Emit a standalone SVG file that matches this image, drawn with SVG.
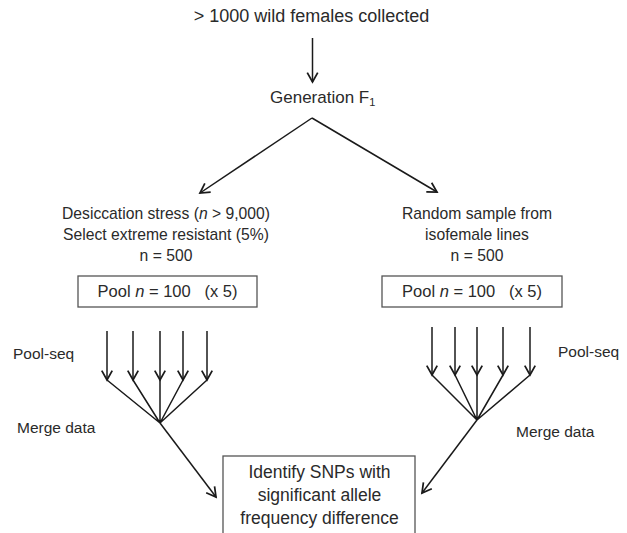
<svg xmlns="http://www.w3.org/2000/svg" width="627" height="533" viewBox="0 0 627 533">
<style>
text{font-family:"Liberation Sans",Arial,sans-serif;fill:#2a2a2a;}
.c{text-anchor:middle;}
.m{font-size:15.7px;}
.p{font-size:16.5px;}
.l{font-size:15.5px;}
.b{font-size:17.5px;}
.box{fill:#fff;stroke:#555;stroke-width:1.3;}
.ln{stroke:#1a1a1a;stroke-width:1.5;fill:none;}
.ar{stroke:#1a1a1a;stroke-width:1.5;fill:none;marker-end:url(#ah);}
</style>
<defs>
<marker id="ah" markerUnits="userSpaceOnUse" markerWidth="14" markerHeight="14" viewBox="-10 -6 12 12" refX="0" refY="0" orient="auto">
<path d="M-8,-4.5 L0,0 L-8,4.5" fill="none" stroke="#1a1a1a" stroke-width="1.5"/>
</marker>
</defs>
<rect width="627" height="533" fill="#fff"/>
<g id="connectors">
<line class="ar" x1="312.5" y1="38" x2="312.5" y2="82"/>
<line class="ar" x1="312" y1="118" x2="200" y2="193"/>
<line class="ar" x1="312" y1="118" x2="437" y2="192"/>
<line class="ar" x1="107" y1="331" x2="107" y2="380"/>
<line class="ar" x1="133" y1="331" x2="133" y2="380"/>
<line class="ar" x1="160" y1="331" x2="160" y2="380"/>
<line class="ar" x1="183" y1="331" x2="183" y2="380"/>
<line class="ar" x1="207" y1="331" x2="207" y2="380"/>
<path class="ln" d="M107,380 L160,423 M133,380 L160,423 M160,380 L160,423 M183,380 L160,423 M207,380 L160,423"/>
<line class="ar" x1="160" y1="423" x2="216" y2="497"/>
<line class="ar" x1="432" y1="327" x2="432" y2="375"/>
<line class="ar" x1="455" y1="327" x2="455" y2="375"/>
<line class="ar" x1="477" y1="327" x2="477" y2="375"/>
<line class="ar" x1="503" y1="327" x2="503" y2="375"/>
<line class="ar" x1="530" y1="327" x2="530" y2="375"/>
<path class="ln" d="M432,375 L477,420 M455,375 L477,420 M477,375 L477,420 M503,375 L477,420 M530,375 L477,420"/>
<line class="ar" x1="477" y1="420" x2="422" y2="493"/>
</g>
<g id="wild">
<text class="c" x="311.5" y="21.5" font-size="18">&gt; 1000 wild females collected</text>
</g>
<g id="generation">
<text x="270" y="103" font-size="17">Generation F<tspan font-size="11" dy="3">1</tspan></text>
</g>
<g id="desiccation">
<text class="c m" x="166" y="218.5">Desiccation stress (<tspan font-style="italic">n</tspan> &gt; 9,000)</text>
<text class="c m" x="166" y="239.5">Select extreme resistant (5%)</text>
<text class="c m" x="166" y="260.5">n = 500</text>
</g>
<g id="pool-left">
<rect class="box" x="78" y="276" width="179" height="31"/>
<text class="c p" x="167.5" y="297" xml:space="preserve">Pool <tspan font-style="italic">n</tspan> = 100   (x 5)</text>
</g>
<g id="random">
<text class="c m" x="477" y="218.5">Random sample from</text>
<text class="c m" x="477" y="239.5">isofemale lines</text>
<text class="c m" x="477" y="260.5">n = 500</text>
</g>
<g id="pool-right">
<rect class="box" x="382" y="276" width="180" height="31"/>
<text class="c p" x="472" y="297" xml:space="preserve">Pool <tspan font-style="italic">n</tspan> = 100   (x 5)</text>
</g>
<g id="labels-left">
<text class="l" x="13" y="359">Pool-seq</text>
<text class="l" x="17" y="433">Merge data</text>
</g>
<g id="labels-right">
<text class="l" x="558" y="357">Pool-seq</text>
<text class="l" x="516" y="437">Merge data</text>
</g>
<g id="identify">
<rect class="box" x="223" y="456" width="192" height="90"/>
<text class="c b" x="319.5" y="478">Identify SNPs with</text>
<text class="c b" x="319.5" y="501">significant allele</text>
<text class="c b" x="319.5" y="524">frequency difference</text>
</g>
</svg>
